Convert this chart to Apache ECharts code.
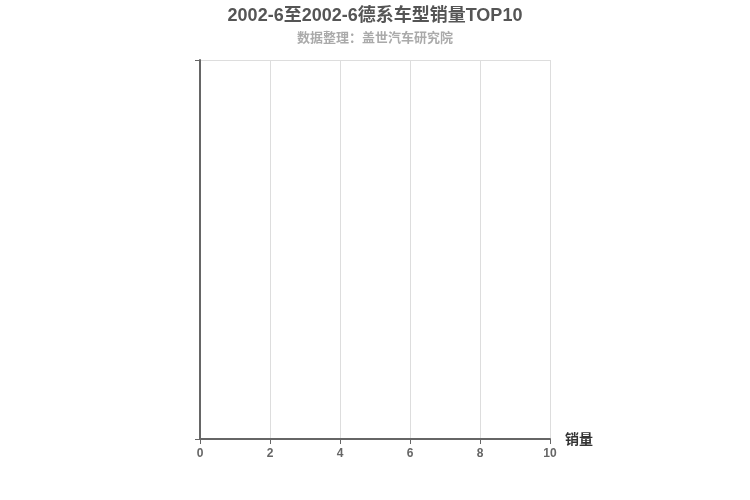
<!DOCTYPE html>
<html><head><meta charset="utf-8">
<script src="https://cdn.jsdelivr.net/npm/echarts@6/dist/echarts.min.js"></script>
<style>html,body{margin:0;padding:0;background:#fff}#c{width:750px;height:500px}</style>
</head><body><div id="c"></div>
<script>
var titleText = '2002-6至2002-6德系车型销量TOP10';
var subText = '数据整理：盖世汽车研究院';
var categories = [];
var salesValues = [];
var valueMin = 0, valueMax = 10, valueInterval = 2;
var chart = echarts.init(document.getElementById('c'));
chart.setOption({
  animation: false,
  title: {
    text: titleText, subtext: subText, left: 'center', top: 2,
    textStyle: {fontSize: 18, fontWeight: 'bold', color: '#555', fontFamily: 'Liberation Sans, Noto Sans CJK SC'},
    subtextStyle: {fontSize: 13, fontWeight: 'bold', color: '#aaa', fontFamily: 'Liberation Sans, Noto Sans CJK SC'},
    itemGap: 7
  },
  grid: {left: 200, right: 200, top: 60, bottom: 61, containLabel: false},
  xAxis: {
    type: 'value', min: valueMin, max: valueMax, interval: valueInterval,
    name: '销量', nameGap: 15,
    nameTextStyle: {fontSize: 14, fontWeight: 'bold', color: '#333', fontFamily: 'Noto Sans CJK SC'},
    axisLine: {show: true, lineStyle: {color: '#666', width: 2}},
    axisTick: {show: true, lineStyle: {color: '#666'}},
    axisLabel: {fontSize: 12, fontWeight: 'bold', color: '#666', fontFamily: 'Liberation Sans', margin: 9},
    splitLine: {show: true, lineStyle: {color: '#ddd'}}
  },
  yAxis: {
    type: 'category', data: categories.length ? categories : [''],
    axisLine: {show: true, lineStyle: {color: '#666', width: 2}},
    axisTick: {show: true, lineStyle: {color: '#666'}},
    axisLabel: {fontSize: 12, fontWeight: 'bold', color: '#666'},
    splitLine: {show: true, lineStyle: {color: '#ddd'}}
  },
  series: [{type: 'bar', name: '销量', data: salesValues}]
});
</script></body></html>
